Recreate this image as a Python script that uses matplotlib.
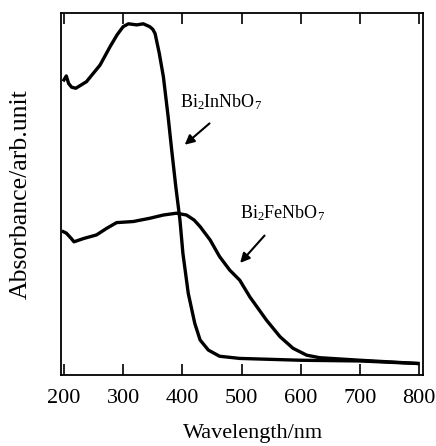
import numpy as np
import matplotlib
matplotlib.use("Agg")
import matplotlib.pyplot as plt

plt.rcParams['font.family'] = ['Liberation Serif', 'DejaVu Serif']
plt.rcParams['mathtext.fontset'] = 'custom'
plt.rcParams['mathtext.rm'] = 'Liberation Serif'

# Bi2InNbO7 spectrum (wavelength nm, absorbance arb.)
in_wl = [200, 204, 208, 213, 220, 238, 261, 278, 290, 300, 309, 323, 334, 345, 350, 354,
         361, 368, 376, 382, 389, 396, 401, 410, 421, 430, 444, 463, 497, 599, 700, 798]
in_abs = [0.815, 0.826, 0.805, 0.795, 0.792, 0.810, 0.856, 0.907, 0.940, 0.962, 0.970,
          0.967, 0.970, 0.962, 0.955, 0.943, 0.889, 0.824, 0.714, 0.622, 0.520, 0.428,
          0.336, 0.226, 0.143, 0.097, 0.069, 0.052, 0.046, 0.041, 0.039, 0.032]

# Bi2FeNbO7 spectrum
fe_wl = [199, 204, 212, 217, 233, 255, 272, 289, 317, 345, 368, 390, 407, 420, 430, 447,
         463, 480, 497, 514, 542, 565, 587, 610, 632, 700, 798]
fe_abs = [0.396, 0.392, 0.378, 0.368, 0.377, 0.387, 0.405, 0.421, 0.424, 0.433, 0.442,
          0.447, 0.442, 0.428, 0.410, 0.373, 0.327, 0.290, 0.262, 0.216, 0.152, 0.106,
          0.074, 0.055, 0.048, 0.041, 0.032]

xticks = [200, 300, 400, 500, 600, 700, 800]

fig = plt.figure(figsize=(4.36, 4.46), dpi=100)
ax = fig.add_axes([0.139, 0.159, 0.831, 0.812])

ax.plot(in_wl, in_abs, color='black', lw=2.4, solid_joinstyle='round')
ax.plot(fe_wl, fe_abs, color='black', lw=2.4, solid_joinstyle='round')

ax.set_xlim(194.4, 806.4)
ax.set_ylim(0, 1)
ax.set_xticks(xticks)
ax.set_yticks([])
ax.tick_params(axis='x', direction='in', top=True, length=8, width=1.2,
               labelsize=16, pad=10)
for s in ax.spines.values():
    s.set_linewidth(1.3)

ax.set_xlabel('Wavelength/nm', fontsize=16)
ax.xaxis.set_label_coords(0.53, -0.135)
ax.set_ylabel('Absorbance/arb.unit', fontsize=18.5)
ax.yaxis.set_label_coords(-0.08, 0.5)

# labels with arrows
ax.text(396, 0.754, r'$\mathrm{Bi_2InNbO_7}$', fontsize=13, va='center', ha='left')
ax.annotate('', xy=(400.5, 0.631), xytext=(449.5, 0.700),
            arrowprops=dict(arrowstyle='-|>', color='black', lw=1.5, mutation_scale=14))
ax.text(497, 0.447, r'$\mathrm{Bi_2FeNbO_7}$', fontsize=13, va='center', ha='left')
ax.annotate('', xy=(494.5, 0.304), xytext=(542, 0.391),
            arrowprops=dict(arrowstyle='-|>', color='black', lw=1.5, mutation_scale=14))

fig.savefig('out.png', dpi=100)
